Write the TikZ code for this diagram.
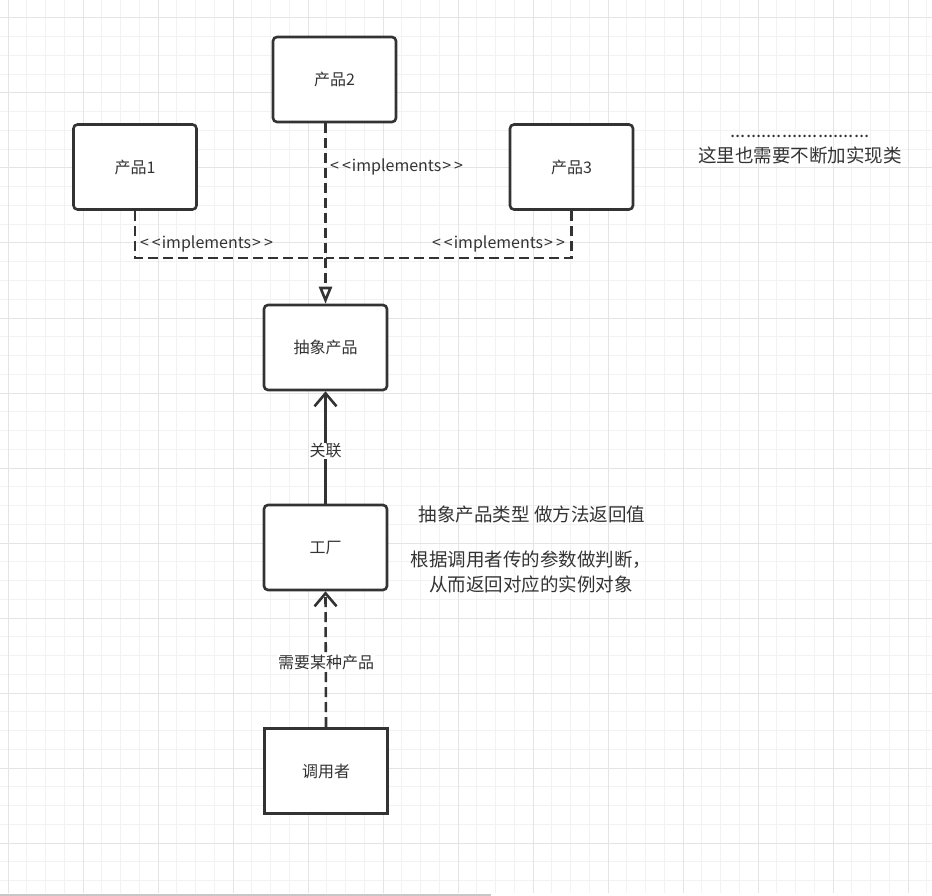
\documentclass[tikz,border=0pt]{standalone}
\usepackage{fontspec}
\setmainfont{Noto Sans CJK SC}
\usetikzlibrary{arrows.meta}
\definecolor{ink}{HTML}{333333}
\definecolor{gridminor}{HTML}{F2F2F2}
\definecolor{gridmajor}{HTML}{E4E4E4}
\newcommand{\implbl}{<\kern3pt<\kern1pt implements\kern1pt>\kern3pt>}

\begin{document}
\begin{tikzpicture}[x=1pt, y=-1pt,
    box/.style={draw=ink, line width=2.6pt, rounded corners=4pt, fill=white,
      minimum width=123pt, minimum height=85pt, inner sep=0pt, text=ink,
      font=\fontsize{16}{19}\selectfont},
    lbl/.style={text=ink, inner sep=1pt, font=\fontsize{16}{19}\selectfont},
    note/.style={text=ink, align=center, inner sep=0pt, font=\fontsize{18.5}{25}\selectfont},
    impl/.style={draw=ink, line width=2.6pt, dash pattern=on 10pt off 5pt},
    assoc/.style={draw=ink, line width=2.6pt, -{Straight Barb[length=13pt, width=22pt]}}]
    \useasboundingbox (0,0) rectangle (932,896);

    % background grid
    \foreach \i in {0,...,49} \draw[gridminor, line width=1pt] (8+18.75*\i,0) -- (8+18.75*\i,893);
    \foreach \i in {0,...,46} \draw[gridminor, line width=1pt] (0,18+18.75*\i) -- (932,18+18.75*\i);
    \foreach \i in {0,...,12} \draw[gridmajor, line width=1pt] (8+75*\i,0) -- (8+75*\i,893);
    \foreach \i in {0,...,11} \draw[gridmajor, line width=1pt] (0,18+75*\i) -- (932,18+75*\i);
    \fill[black!22] (0,893.5) rectangle (491,896);

    % classes
    \node[box] (p2) at (334.5,79.5) {产品2};
    \node[box] (p1) at (135,167) {产品1};
    \node[box] (p3) at (571.5,167) {产品3};
    \node[box] (abs) at (325.5,347.5) {抽象产品};
    \node[box] (fac) at (325.5,547.5) {工厂};
    \node[box, sharp corners] (caller) at (326,771) {调用者};

    % implements
    \coordinate (join) at (325.5,258);
    \draw[impl] (p1.south) |- (join);
    \draw[impl] (p3.south) |- (join);
    \draw[impl, -{Triangle[fill=white, length=17pt, width=13pt]}] (p2.south -| abs.north) -- (abs.north);
    \node[lbl, anchor=west] (l2) at (329,167) {\implbl};
    \node[lbl] (l1) at (206.5,244) {\implbl};
    \node[lbl] (l3) at (498.5,244) {\implbl};

    % association and dependency
    \draw[assoc] (fac.north) -- (abs.south);
    \node[lbl, fill=white] (rel) at (325.5,451) {关联};
    \draw[assoc, dash pattern=on 10pt off 5pt] (caller.north) -- (fac.south);
    \node[lbl, fill=white] (need) at (326,662) {需要某种产品};

    % notes
    \node[note] (more) at (800,150) {...........................\\这里也需要不断加实现类};
    \node[note] (ret) at (532,514) {抽象产品类型 做方法返回值};
    \node[note] (judge) at (531,571.5) {根据调用者传的参数做判断，\\从而返回对应的实例对象};
\end{tikzpicture}
\end{document}
